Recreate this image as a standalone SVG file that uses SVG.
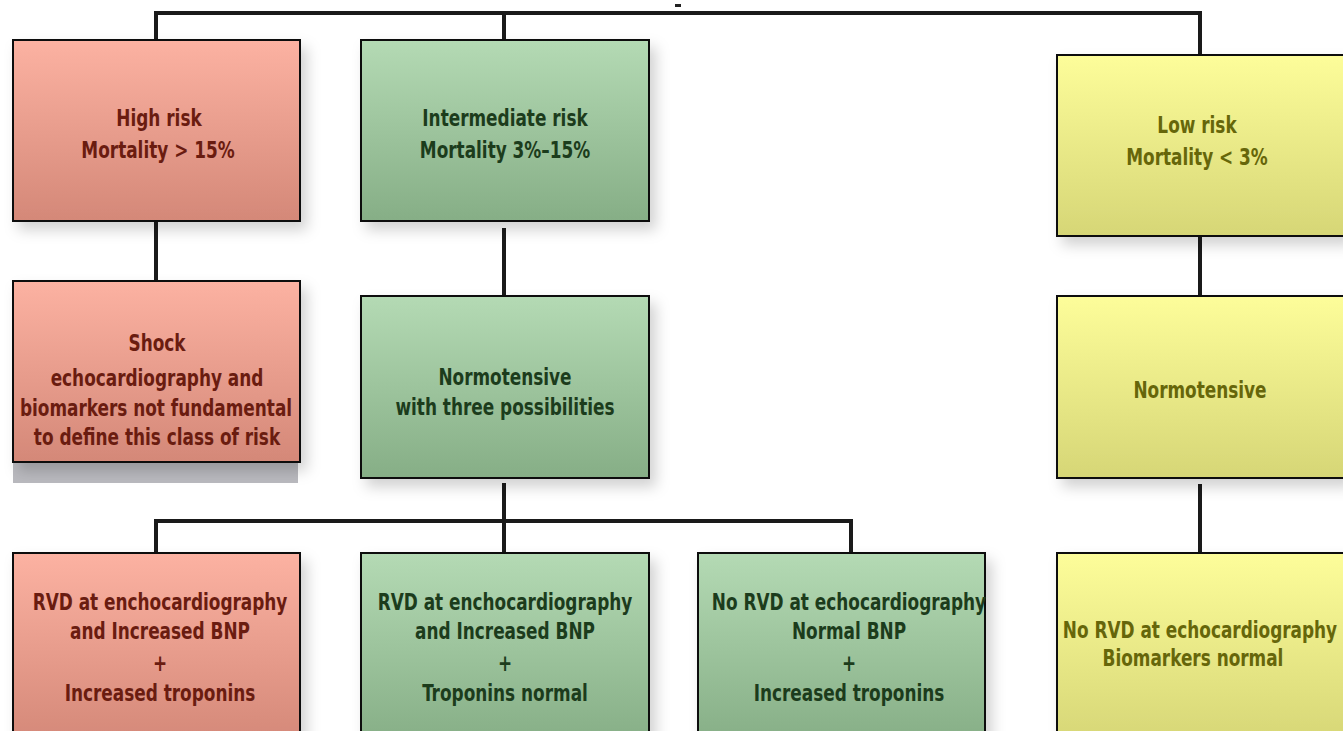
<svg xmlns="http://www.w3.org/2000/svg" width="1343" height="731" viewBox="0 0 1343 731">
<defs>
<linearGradient id="gRed" x1="0" y1="0" x2="0" y2="1"><stop offset="0" stop-color="#fcb2a2"/><stop offset="1" stop-color="#d48878"/></linearGradient>
<linearGradient id="gGreen" x1="0" y1="0" x2="0" y2="1"><stop offset="0" stop-color="#b4dab4"/><stop offset="1" stop-color="#86ae86"/></linearGradient>
<linearGradient id="gYellow" x1="0" y1="0" x2="0" y2="1"><stop offset="0" stop-color="#fdfd9a"/><stop offset="1" stop-color="#d6d676"/></linearGradient>
<filter id="sh" x="-10%" y="-10%" width="130%" height="130%"><feDropShadow dx="6" dy="8" stdDeviation="7" flood-color="#000" flood-opacity="0.18"/></filter>
</defs>
<style>
.box{stroke:#111;stroke-width:2;filter:url(#sh)}
.red{fill:url(#gRed)}
.green{fill:url(#gGreen)}
.yellow{fill:url(#gYellow)}
text{font-family:"Liberation Sans Narrow","DejaVu Sans Condensed","Liberation Sans",sans-serif;font-weight:bold;font-size:20px;text-anchor:middle;transform-box:fill-box;transform-origin:center;transform:scale(0.94,1.12)}
.tr{fill:#6a1c10}
.tg{fill:#1c3c1c}
.ty{fill:#66660a}
.conn{fill:none;stroke:#1a1a1a;stroke-width:4}
</style>
<rect width="1343" height="731" fill="#fff"/>
<g id="connectors">
<path class="conn" d="M156,48 V13 H1200 V56"/>
<path class="conn" d="M504,13 V48"/>
<path class="conn" d="M156,221 V302"/>
<path class="conn" d="M504,228 V303"/>
<path class="conn" d="M1200,236 V302"/>
<path class="conn" d="M504,483 V553"/>
<path class="conn" d="M156,560 V521 H851 V560"/>
<path class="conn" d="M1200,484 V560"/>
<rect x="675" y="4" width="6" height="3" fill="#222"/>
</g>
<g id="n-high">
<rect class="box red" x="13" y="40" width="287" height="181"/>
<text class="tr" x="159" y="125">High risk</text>
<text class="tr" x="158" y="157">Mortality &gt; 15%</text>
</g>
<g id="n-intermediate">
<rect class="box green" x="361" y="40" width="288" height="181"/>
<text class="tg" x="505" y="125">Intermediate risk</text>
<text class="tg" x="505" y="157">Mortality 3%–15%</text>
</g>
<g id="n-low">
<rect class="box yellow" x="1057" y="55" width="290" height="181"/>
<text class="ty" x="1197" y="132">Low risk</text>
<text class="ty" x="1197" y="164">Mortality &lt; 3%</text>
</g>
<g id="n-shock">
<rect x="13" y="462" width="285" height="21" fill="#b9b9be"/>
<rect class="box red" x="13" y="281" width="287" height="181"/>
<text class="tr" x="157" y="350">Shock</text>
<text class="tr" x="157" y="385">echocardiography and</text>
<text class="tr" x="156" y="415">biomarkers not fundamental</text>
<text class="tr" x="157" y="444">to define this class of risk</text>
</g>
<g id="n-normo-green">
<rect class="box green" x="361" y="296" width="288" height="182"/>
<text class="tg" x="505" y="384">Normotensive</text>
<text class="tg" x="505" y="414">with three possibilities</text>
</g>
<g id="n-normo-yellow">
<rect class="box yellow" x="1057" y="296" width="290" height="182"/>
<text class="ty" x="1200" y="397">Normotensive</text>
</g>
<g id="n-b1">
<rect class="box red" x="13" y="553" width="287" height="190"/>
<text class="tr" x="160" y="609">RVD at enchocardiography</text>
<text class="tr" x="160" y="638">and Increased BNP</text>
<text class="tr" x="160" y="670">+</text>
<text class="tr" x="160" y="700">Increased troponins</text>
</g>
<g id="n-b2">
<rect class="box green" x="361" y="553" width="288" height="190"/>
<text class="tg" x="505" y="609">RVD at enchocardiography</text>
<text class="tg" x="505" y="638">and Increased BNP</text>
<text class="tg" x="505" y="670">+</text>
<text class="tg" x="505" y="700">Troponins normal</text>
</g>
<g id="n-b3">
<rect class="box green" x="698" y="553" width="287" height="190"/>
<text class="tg" x="849" y="609">No RVD at echocardiography</text>
<text class="tg" x="849" y="638">Normal BNP</text>
<text class="tg" x="849" y="670">+</text>
<text class="tg" x="849" y="700">Increased troponins</text>
</g>
<g id="n-b4">
<rect class="box yellow" x="1057" y="553" width="290" height="190"/>
<text class="ty" x="1200" y="637">No RVD at echocardiography</text>
<text class="ty" x="1193" y="665">Biomarkers normal</text>
</g>
</svg>
